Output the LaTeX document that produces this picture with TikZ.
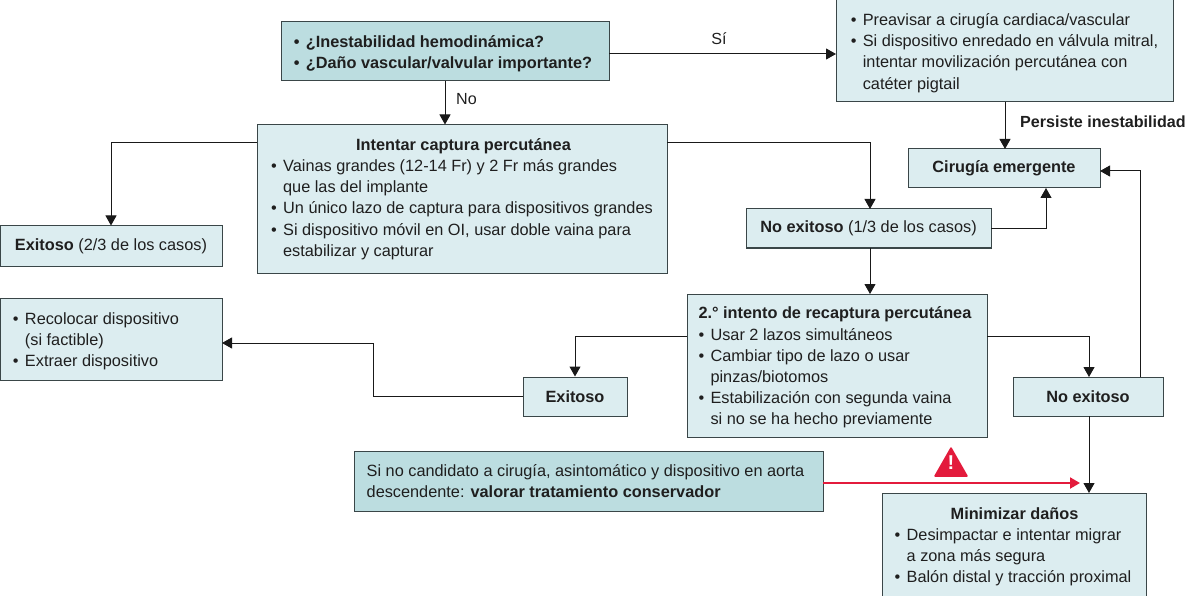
\documentclass[tikz,border=0pt]{standalone}
\usepackage{fontspec}
\setmainfont{Liberation Sans}
\usetikzlibrary{arrows.meta}
\definecolor{boxlight}{HTML}{DCEDF0}
\definecolor{boxdark}{HTML}{BCDDE0}
\definecolor{boxline}{HTML}{3A4648}
\definecolor{alertred}{HTML}{E31B3C}
\newcommand{\itm}{\makebox[12pt][l]{\textbullet}}
\newcommand{\ind}{\hspace*{12pt}}
\newcommand{\tall}{\rule{0pt}{16pt}}
\newcommand{\pad}[1]{\hspace*{#1pt}}
\begin{document}
\begin{tikzpicture}[x=1pt, y=-1pt]
    \tikzset{module/.style={draw=boxline, fill=boxlight, line width=1pt, align=left, inner sep=0pt, text=black!88, font=\fontsize{16.3}{21.2}\selectfont}}
    \tikzset{moduledark/.style={module, fill=boxdark}}
    \tikzset{link/.style={draw=black!90, line width=1pt, -{Triangle[length=10pt, width=11pt]}}}
    \tikzset{linklabel/.style={inner sep=0pt, text=black!88, font=\fontsize{16.1}{18}\selectfont}}
    \useasboundingbox (0, 0) rectangle (1186, 596);
    \node[moduledark, minimum width=328pt, minimum height=59pt] (question) at (445, 51.5) {\tall\textbf{\itm ¿Inestabilidad hemodinámica?}\\\textbf{\itm ¿Daño vascular/valvular importante?}\pad{4}};
    \node[module, minimum width=337pt, minimum height=102pt] (warn) at (1004.5, 51) {\tall\itm Preavisar a cirugía cardiaca/vascular\\\itm Si dispositivo enredado en válvula mitral,\pad{6}\\\ind intentar movilización percutánea con\\\ind catéter pigtail};
    \node[module, minimum width=410pt, minimum height=148pt] (capture) at (462, 199) {\hspace*{85pt}\textbf{Intentar captura percutánea}\\\itm Vainas grandes (12-14 Fr) y 2 Fr más grandes\\\ind que las del implante\\\itm Un único lazo de captura para dispositivos grandes\pad{5}\\\itm Si dispositivo móvil en OI, usar doble vaina para\\\ind estabilizar y capturar};
    \node[module, minimum width=192pt, minimum height=39pt] (surgery) at (1004, 168.5) {\textbf{Cirugía emergente}};
    \node[module, minimum width=245pt, minimum height=39pt] (fail) at (868.5, 228.5) {\textbf{No exitoso} (1/3 de los casos)};
    \node[module, minimum width=222pt, minimum height=40pt] (success) at (111, 246) {\textbf{Exitoso} (2/3 de los casos)};
    \node[module, minimum width=222pt, minimum height=82pt] (relocate) at (111, 339) {\tall\itm Recolocar dispositivo\pad{30}\\\ind (si factible)\\\itm Extraer dispositivo};
    \node[module, minimum width=300pt, minimum height=143pt] (second) at (837, 365.5) {\tall\textbf{2.° intento de recaptura percutánea}\pad{4}\\\itm Usar 2 lazos simultáneos\\\itm Cambiar tipo de lazo o usar\\\ind pinzas/biotomos\\\itm Estabilización con segunda vaina\\\ind si no se ha hecho previamente};
    \node[module, minimum width=104pt, minimum height=39pt] (successb) at (575, 396.5) {\textbf{Exitoso}};
    \node[module, minimum width=150pt, minimum height=39pt] (failb) at (1088, 396.5) {\textbf{No exitoso}};
    \node[moduledark, minimum width=469pt, minimum height=60pt] (conserve) at (588.5, 481) {Si no candidato a cirugía, asintomático y dispositivo en aorta\pad{6}\\descendente: \textbf{valorar tratamiento conservador}};
    \node[module, minimum width=264pt, minimum height=103pt] (damage) at (1014, 544.5) {\tall\hspace*{56pt}\textbf{Minimizar daños}\\\itm Desimpactar e intentar migrar\\\ind a zona más segura\\\itm Balón distal y tracción proximal\pad{2}};
    \coordinate (questionE) at (609, 54);
    \coordinate (warnW) at (836, 54);
    \coordinate (warnS) at (1005, 102);
    \coordinate (surgeryN) at (1005, 149);
    \coordinate (captureW) at (257, 143);
    \coordinate (captureE) at (667, 143);
    \coordinate (failN) at (870, 209);
    \coordinate (failS) at (870, 248);
    \coordinate (secondN) at (870, 294);
    \coordinate (failE) at (991, 229);
    \coordinate (surgeryS) at (1046, 188);
    \coordinate (secondW) at (687, 336);
    \coordinate (secondE) at (987, 336);
    \coordinate (relocateE) at (222, 343);
    \coordinate (failbN) at (1089, 377);
    \coordinate (failbS) at (1089, 416);
    \coordinate (damageN) at (1089, 493);
    \coordinate (failbT) at (1140, 377);
    \coordinate (surgeryE) at (1100, 171);
    \coordinate (redEnd) at (1080, 483);
    \coordinate (conserveE) at (823, 483);
    \draw[link] (questionE) -- (warnW);
    \node[linklabel] (yes) at (719, 39) {Sí};
    \draw[link] (question.south) -- (question.south |- capture.north);
    \node[linklabel, anchor=west] (no) at (456, 99) {No};
    \draw[link] (warnS) -- (surgeryN);
    \node[linklabel, anchor=west] (persist) at (1020, 122) {\textbf{Persiste inestabilidad}};
    \draw[link] (captureW) -| (success.north);
    \draw[link] (captureE) -| (failN);
    \draw[link] (failE) -| (surgeryS);
    \draw[link] (failS) -- (secondN);
    \draw[link] (secondW) -| (successb.north);
    \draw[link] (successb.west) -- (373, 396.5) |- (relocateE);
    \draw[link] (secondE) -| (failbN);
    \draw[link] (failbT) |- (surgeryE);
    \draw[link] (failbS) -- (damageN);
    \draw[draw=alertred, line width=2pt, -{Triangle[length=10pt, width=11pt]}] (conserveE) -- (redEnd);
    \fill[alertred, draw=alertred, line width=1.5pt, line join=round] (951, 448) -- (967, 476) -- (935, 476) -- cycle;
    \node[inner sep=0pt, text=white, font=\fontsize{20}{20}\selectfont\bfseries] (alert) at (951, 463) {!};
\end{tikzpicture}
\end{document}
